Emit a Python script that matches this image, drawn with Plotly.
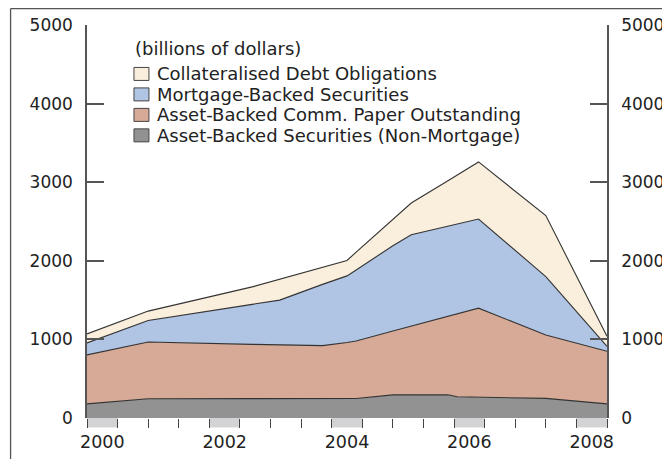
import plotly.graph_objects as go

# ---- data (billions of dollars) ----
dates = [1999.75, 2000.75, 2002.45, 2002.9, 2003.6, 2004.0, 2004.15,
         2004.75, 2005.05, 2005.65, 2005.8, 2006.15, 2007.25, 2008.25]
abs_non_mortgage = [180, 244, 246, 247, 247, 248, 249, 294, 295, 295, 270, 266, 250, 180]
abcp = [623, 723, 691, 685, 674, 713, 731, 812, 874, 1000, 1057, 1132, 805, 669]
mbs = [152, 273, 509, 568, 779, 847, 903, 1086, 1163, 1148, 1143, 1133, 745, 63]
cdo = [115, 120, 222, 267, 218, 197, 227, 339, 403, 575, 619, 727, 775, 128]

names = ["Asset-Backed Securities (Non-Mortgage)",
         "Asset-Backed Comm. Paper Outstanding",
         "Mortgage-Backed Securities",
         "Collateralised Debt Obligations"]
colors = ["#929292", "#D6AA96", "#B0C4E4", "#FAEEDC"]
series = [abs_non_mortgage, abcp, mbs, cdo]

year_labels = [2000, 2002, 2004, 2006, 2008]
y_ticks = [0, 1000, 2000, 3000, 4000, 5000]

FONT = "DejaVu Sans, Arial, sans-serif"
AXIS_COL = "#555555"

fig = go.Figure()
for name, vals, col in zip(names, series, colors):
    fig.add_trace(go.Scatter(x=dates, y=vals, name=name, stackgroup="one",
                             mode="lines", fillcolor=col,
                             line=dict(color="#333333", width=1.1),
                             showlegend=False))
# dummy trace so the right-hand axis is drawn
fig.add_trace(go.Scatter(x=[None], y=[None], yaxis="y2", showlegend=False))

# page body has an 8px margin, so the figure sits at (8, 8) in the window
OFF = 8
W, H = 670 - OFF, 459 - OFF
L, R, T, B = 87 - OFF, 607.5 - OFF, 25 - OFF, 418.5 - OFF

# window pixels -> paper coords
def px_x(p):
    return (p - OFF - L) / (R - L)
def px_y(p):
    return (B - (p - OFF)) / (B - T)

shapes = []
# grey blocks on the date strip
for yr in year_labels:
    shapes.append(dict(type="rect", xref="x", yref="paper",
                       x0=yr - 0.25, x1=yr + 0.25, y0=px_y(428), y1=0,
                       fillcolor="#D3D3D5", line=dict(width=0), layer="below"))
# outer frame (left and top)
shapes.append(dict(type="line", xref="paper", yref="paper",
                   x0=px_x(10.5), x1=px_x(10.5), y0=px_y(8.6), y1=px_y(470),
                   line=dict(color=AXIS_COL, width=1.3)))
shapes.append(dict(type="line", xref="paper", yref="paper",
                   x0=px_x(10.5), x1=px_x(680), y0=px_y(8.6), y1=px_y(8.6),
                   line=dict(color=AXIS_COL, width=1.3)))

annotations = [dict(text="(billions of dollars)", xref="paper", yref="paper",
                    x=px_x(133), y=px_y(49), xanchor="left", yanchor="middle",
                    showarrow=False, font=dict(family=FONT, size=18, color="#222"))]
# hand-made legend, top entry first
row_y = [74, 94.5, 115, 135.5]
for i, idx in enumerate([3, 2, 1, 0]):
    yc = row_y[i]
    shapes.append(dict(type="rect", xref="paper", yref="paper",
                       x0=px_x(134), x1=px_x(149), y0=px_y(yc + 6.5), y1=px_y(yc - 6.5),
                       fillcolor=colors[idx], line=dict(color="#444444", width=1)))
    annotations.append(dict(text=names[idx], xref="paper", yref="paper",
                            x=px_x(155), y=px_y(yc), xanchor="left", yanchor="middle",
                            showarrow=False,
                            font=dict(family=FONT, size=18, color="#222")))

yax = dict(range=[0, 5000], tickvals=y_ticks, showgrid=False, zeroline=False,
           showline=True, linecolor=AXIS_COL, linewidth=1.5,
           ticks="inside", ticklen=17, tickwidth=1.5, tickcolor=AXIS_COL,
           tickfont=dict(family=FONT, size=17, color="#222"),
           ticklabelstandoff=9, automargin=False, fixedrange=True)

fig.update_layout(
    width=W, height=H,
    margin=dict(l=L, r=W - R, t=T, b=H - B, autoexpand=False),
    paper_bgcolor="white", plot_bgcolor="white",
    showlegend=False,
    xaxis=dict(range=[1999.75, 2008.25], tickvals=year_labels, ticks="",
               showgrid=False, zeroline=False, showline=False,
               tickfont=dict(family=FONT, size=17.5, color="#222"),
               ticklabelstandoff=11, automargin=False,
               minor=dict(tick0=1999.75, dtick=0.5, ticks="outside", ticklen=9,
                          tickwidth=1.2, tickcolor="#444444", showgrid=False)),
    yaxis=yax,
    yaxis2=dict(yax, overlaying="y", side="right"),
    shapes=shapes,
    annotations=annotations,
)

fig.write_html("out.html")
